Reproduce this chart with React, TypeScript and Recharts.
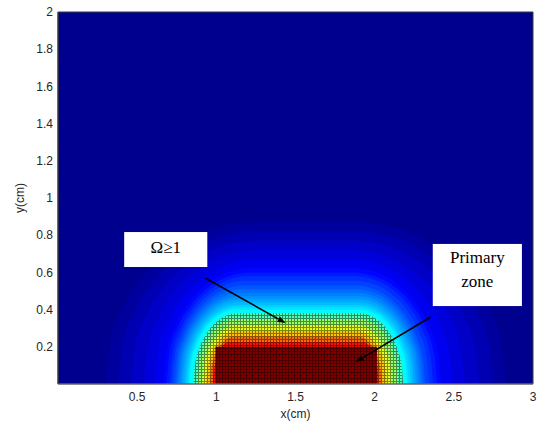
import {
  Area,
  CartesianGrid,
  ComposedChart,
  ReferenceArea,
  ReferenceLine,
  XAxis,
  YAxis,
} from "recharts";

// ticks
const X_TICKS = [0.5, 1, 1.5, 2, 2.5, 3];
const Y_TICKS = [0.2, 0.4, 0.6, 0.8, 1, 1.2, 1.4, 1.6, 1.8, 2];

// contour levels, outermost first (value on jet scale 0..1)
const LEVELS = [
  0.03, 0.05, 0.07, 0.09, 0.11, 0.13, 0.15, 0.17, 0.19, 0.21, 0.23, 0.25, 0.27, 0.29, 0.31, 0.33, 0.35, 0.37,
  0.45, 0.52, 0.6, 0.68, 0.77, 0.86,
];
// left / right foot of each contour on y=0 (cm)
const FOOT_LEFT = [
  0.3, 0.38, 0.46, 0.54, 0.61, 0.665, 0.685, 0.705, 0.72, 0.735, 0.748, 0.76, 0.773, 0.785, 0.798, 0.81, 0.82, 0.83,
  0.855, 0.88, 0.91, 0.935, 0.96, 0.98,
];
const FOOT_RIGHT = [
  2.83, 2.75, 2.66, 2.57, 2.49, 2.42, 2.395, 2.37, 2.345, 2.32, 2.305, 2.29, 2.275, 2.26, 2.245, 2.23, 2.217, 2.205,
  2.18, 2.15, 2.11, 2.075, 2.045, 2.025,
];
// height of each contour (cm)
const TOP = [
  0.87, 0.82, 0.77, 0.72, 0.67, 0.625, 0.6, 0.58, 0.555, 0.53, 0.51, 0.49, 0.472, 0.455, 0.44, 0.425, 0.412, 0.4,
  0.38, 0.35, 0.315, 0.285, 0.255, 0.225,
];
// width of the rounded shoulder (cm)
const CORNER = [
  0.95, 0.88, 0.8, 0.72, 0.64, 0.56, 0.53, 0.5, 0.47, 0.44, 0.42, 0.4, 0.38, 0.36, 0.345, 0.33, 0.315, 0.3,
  0.28, 0.25, 0.22, 0.19, 0.15, 0.1,
];
const OMEGA_INDEX = 18; // contour where Ω = 1

// primary zone (core, Ω max)
const CORE = { left: 0.994, right: 2.015, top: 0.2 };

// shoulder profile of a contour (fraction of corner width, fraction of height)
const DOME_U = [0, 0.034, 0.134, 0.293, 0.5, 0.741, 1];
const DOME_W = [0, 0.259, 0.5, 0.707, 0.866, 0.966, 1];

// annotations (data units)
const OMEGA_BOX = { x1: 0.418, x2: 0.943, y1: 0.629, y2: 0.817 };
const ZONE_BOX = { x1: 2.367, x2: 2.93, y1: 0.419, y2: 0.753 };
const OMEGA_ARROW = [
  { x: 0.93, y: 0.57 },
  { x: 1.437, y: 0.328 },
];
const ZONE_ARROW = [
  { x: 2.354, y: 0.36 },
  { x: 1.88, y: 0.118 },
];

const BG = "#00008F";
const CORE_RED = "#800000";
const SERIF = "'Liberation Serif', 'Times New Roman', serif";

function jet(v: number) {
  const c = (t: number) => Math.round(255 * Math.max(0, Math.min(1, t)));
  const r = Math.min(4 * v - 1.5, -4 * v + 4.5);
  const g = Math.min(4 * v - 0.5, -4 * v + 3.5);
  const b = Math.min(4 * v + 0.5, -4 * v + 2.5);
  return `rgb(${c(r)},${c(g)},${c(b)})`;
}

function contour(i: number) {
  const L = FOOT_LEFT[i];
  const R = FOOT_RIGHT[i];
  const T = TOP[i];
  const C = CORNER[i];
  const left = DOME_U.map((u, k) => ({ x: L + C * u, y: T * DOME_W[k] }));
  const right = DOME_U.map((u, k) => ({ x: R - C * u, y: T * DOME_W[k] })).reverse();
  return [...left, ...right];
}

const coreData = [
  { x: CORE.left, y: CORE.top },
  { x: CORE.right, y: CORE.top },
];

function Arrow(p: any) {
  const { x1, y1, x2, y2 } = p;
  if (x1 == null) return null;
  const a = Math.atan2(y2 - y1, x2 - x1);
  const len = 8;
  const w = 3;
  const bx = x2 - len * Math.cos(a);
  const by = y2 - len * Math.sin(a);
  const nx = -Math.sin(a) * w;
  const ny = Math.cos(a) * w;
  return (
    <g>
      <line x1={x1} y1={y1} x2={bx} y2={by} stroke="#000" strokeWidth={1.6} />
      <polygon points={`${x2},${y2} ${bx + nx},${by + ny} ${bx - nx},${by - ny}`} fill="#000" />
    </g>
  );
}

function Box(lines: string[], baselines: number[]) {
  return (p: any) => {
    const { x, y, width, height } = p;
    if (x == null) return null;
    return (
      <g>
        <rect x={x} y={y} width={width} height={height} fill="#fff" />
        {lines.map((t, i) => (
          <text
            key={i}
            x={x + width / 2}
            y={y + baselines[i]}
            textAnchor="middle"
            fontFamily={SERIF}
            fontSize={17}
            fill="#000"
          >
            {t}
          </text>
        ))}
      </g>
    );
  };
}

const tickStyle = { fontSize: 12, fill: "#262626", fontFamily: "'Liberation Sans', Arial, sans-serif" };

export default function App() {
  return (
    <div style={{ position: "absolute", left: 0, top: 0, width: 547, height: 433, background: "#fff" }}>
      <svg width={0} height={0} style={{ position: "absolute" }}>
        <defs>
          <pattern id="mesh" width={3} height={3} patternUnits="userSpaceOnUse">
            <rect x={0} y={0} width={3} height={1} fill="#000" fillOpacity={0.45} />
            <rect x={0} y={1} width={1} height={2} fill="#000" fillOpacity={0.45} />
          </pattern>
        </defs>
      </svg>
      <ComposedChart
        width={547}
        height={433}
        margin={{ top: 12, right: 14, bottom: 0, left: 0 }}
        style={{ fontFamily: "'Liberation Sans', Arial, sans-serif" }}
      >
        <CartesianGrid fill={BG} horizontal={false} vertical={false} />
        <XAxis
          type="number"
          dataKey="x"
          domain={[0, 3]}
          ticks={X_TICKS}
          allowDataOverflow
          tickLine={false}
          tickSize={0}
          tickMargin={8}
          axisLine={{ stroke: "#7a7a7a" }}
          tick={tickStyle}
          height={49}
          label={{ value: "x(cm)", position: "insideBottom", offset: 15, style: tickStyle }}
        />
        <YAxis
          type="number"
          dataKey="y"
          domain={[0, 2]}
          ticks={Y_TICKS}
          allowDataOverflow
          tickLine={false}
          tickSize={0}
          tickMargin={5}
          axisLine={{ stroke: "#3a3a3a" }}
          tick={tickStyle}
          width={58}
          label={{
            value: "y(cm)",
            angle: -90,
            position: "insideLeft",
            offset: 20,
            style: { ...tickStyle, textAnchor: "middle" },
          }}
        />
        {LEVELS.map((v, i) => (
          <Area
            key={`c${i}`}
            data={contour(i)}
            dataKey="y"
            type="monotone"
            fill={jet(v)}
            fillOpacity={1}
            stroke="none"
            isAnimationActive={false}
            dot={false}
            activeDot={false}
          />
        ))}
        <Area
          data={coreData}
          dataKey="y"
          type="linear"
          fill={CORE_RED}
          fillOpacity={1}
          stroke="none"
          isAnimationActive={false}
          dot={false}
          activeDot={false}
        />
        <Area
          data={contour(OMEGA_INDEX)}
          dataKey="y"
          type="monotone"
          fill="url(#mesh)"
          fillOpacity={1}
          stroke="none"
          isAnimationActive={false}
          dot={false}
          activeDot={false}
        />
        <ReferenceArea
          x1={0}
          x2={3}
          y1={0}
          y2={2}
          fill="none"
          stroke="#3a3a3a"
          strokeWidth={1}
          ifOverflow="visible"
        />
        <ReferenceArea {...OMEGA_BOX} shape={Box(["Ω≥1"], [21])} ifOverflow="visible" />
        <ReferenceArea {...ZONE_BOX} shape={Box(["Primary", "zone"], [19, 43])} ifOverflow="visible" />
        <ReferenceLine segment={OMEGA_ARROW} shape={Arrow} ifOverflow="visible" />
        <ReferenceLine segment={ZONE_ARROW} shape={Arrow} ifOverflow="visible" />
      </ComposedChart>
    </div>
  );
}
